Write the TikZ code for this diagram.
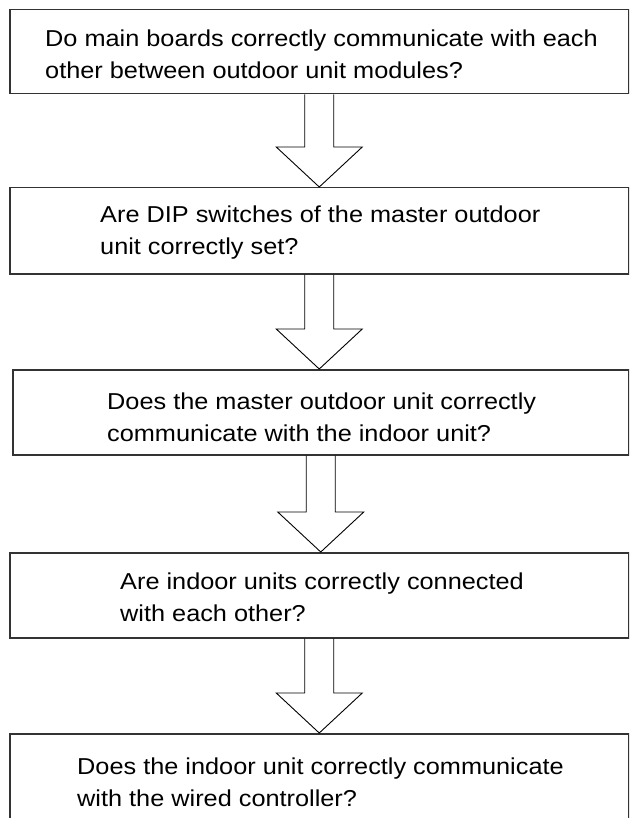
\documentclass[tikz,border=0pt]{standalone}
\usepackage{fontspec}
\setmainfont{Liberation Sans}[FakeStretch=1.1]
\usetikzlibrary{calc}
\begin{document}
\begin{tikzpicture}[x=1pt,y=-1pt,
  box/.style={draw=black!80, line width=1.5pt, fill=none, inner sep=0pt, anchor=north west},
  txt/.style={inner sep=0pt, anchor=base west, align=left, font=\fontsize{23}{32}\selectfont},
  blockarrow/.style={draw=black, line width=0.9pt, line join=miter}]
\useasboundingbox (0,0) rectangle (629,818);
\clip (0,0) rectangle (629,818);
\fill[white] (0,0) rectangle (629,818);
% boxes
\node[box, minimum width=619pt, minimum height=84pt] (b1) at (9,9) {};
\node[box, minimum width=619pt, minimum height=86pt] (b2) at (9,187) {};
\node[box, minimum width=616pt, minimum height=85pt] (b3) at (12,369) {};
\node[box, minimum width=619pt, minimum height=85pt] (b4) at (9,552) {};
\node[box, minimum width=619pt, minimum height=120pt] (b5) at (9,733) {};
% texts (anchor = baseline of the last line)
\node[txt] (t1) at (45,79) {Do main boards correctly communicate with each\\other between outdoor unit modules?};
\node[txt] (t2) at (100,254) {Are DIP switches of the master outdoor\\unit correctly set?};
\node[txt] (t3) at (107,441) {Does the master outdoor unit correctly\\communicate with the indoor unit?};
\node[txt] (t4) at (120,621) {Are indoor units correctly connected\\with each other?};
\node[txt] (t5) at (77,806) {Does the indoor unit correctly communicate\\with the wired controller?};
% block arrows
\foreach \a/\b in {b1/b2, b2/b3, b3/b4, b4/b5}{
  \coordinate (tip-\b) at (\a.south |- \b.north);
  \draw[blockarrow] ($(\a.south)+(-14.5,0)$) -- ($(tip-\b)+(-14.5,-40)$) -- ($(tip-\b)+(-43,-40)$) -- (tip-\b)
    -- ($(tip-\b)+(43,-40)$) -- ($(tip-\b)+(14.5,-40)$) -- ($(\a.south)+(14.5,0)$);
}
\end{tikzpicture}
\end{document}
